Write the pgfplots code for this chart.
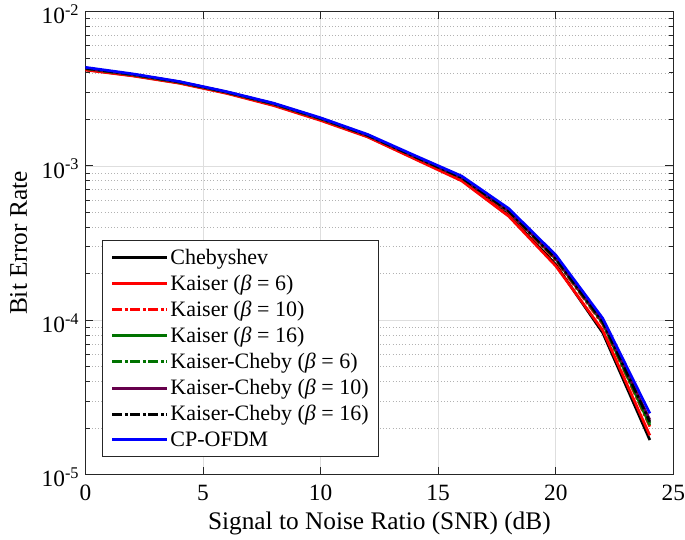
\documentclass[border=0pt]{standalone}
\usepackage{pgfplots}
\pgfplotsset{compat=1.18}
\usepackage{fontspec}
\setmainfont{Liberation Serif}
\definecolor{mgreen}{rgb}{0,0.45,0}
\definecolor{mpurple}{rgb}{0.4,0,0.3}
\definecolor{mblack}{rgb}{0,0,0}
\definecolor{axgray}{rgb}{0.15,0.15,0.15}
\pgfplotstableread{
x cp cheb k6 k10 k16 kc6 kc10 kc16
0 4.35e-3 4.20e-3 4.18e-3 4.25e-3 4.28e-3 4.27e-3 4.29e-3 4.30e-3
2 3.95e-3 3.85e-3 3.83e-3 3.88e-3 3.90e-3 3.89e-3 3.91e-3 3.92e-3
4 3.52e-3 3.45e-3 3.43e-3 3.47e-3 3.49e-3 3.48e-3 3.50e-3 3.50e-3
6 3.03e-3 2.97e-3 2.95e-3 2.99e-3 3.00e-3 3.00e-3 3.01e-3 3.01e-3
8 2.55e-3 2.48e-3 2.46e-3 2.51e-3 2.52e-3 2.52e-3 2.53e-3 2.53e-3
10 2.05e-3 1.99e-3 1.97e-3 2.01e-3 2.02e-3 2.02e-3 2.03e-3 2.03e-3
12 1.60e-3 1.55e-3 1.54e-3 1.57e-3 1.58e-3 1.58e-3 1.58e-3 1.58e-3
14 1.17e-3 1.12e-3 1.11e-3 1.14e-3 1.15e-3 1.15e-3 1.15e-3 1.15e-3
16 8.6e-4 8.1e-4 8.0e-4 8.3e-4 8.4e-4 8.4e-4 8.4e-4 8.4e-4
18 5.3e-4 4.8e-4 4.72e-4 5.0e-4 5.1e-4 5.1e-4 5.1e-4 5.1e-4
20 2.65e-4 2.3e-4 2.25e-4 2.45e-4 2.5e-4 2.5e-4 2.52e-4 2.52e-4
22 1.03e-4 8.3e-5 8.6e-5 9.4e-5 9.6e-5 9.7e-5 9.8e-5 9.8e-5
24 2.5e-5 1.68e-5 1.8e-5 2.05e-5 2.1e-5 2.15e-5 2.27e-5 2.2e-5
}\data
\begin{document}
\begin{tikzpicture}
\begin{axis}[
  scale only axis,
  width=441pt, height=347.5pt,
  xmin=0, xmax=25, ymin=1e-5, ymax=1e-2,
  ymode=log,
  xtick={0,5,10,15,20,25},
  ytick={1e-5,1e-4,1e-3,1e-2},
  yticklabels={10\textsuperscript{-5},10\textsuperscript{-4},10\textsuperscript{-3},10\textsuperscript{-2}},
  /pgf/number format/assume math mode=true,
  ticklabel style={font=\fontsize{17.5}{20}\selectfont},
  xticklabel style={yshift=-4pt, inner xsep=0pt},
  yticklabel style={xshift=-1pt, yshift=-2pt},
  label style={font=\fontsize{19}{22}\selectfont},
  xlabel style={yshift=-2pt},
  ylabel style={yshift=0pt, inner ysep=7.5pt},
  xlabel={Signal to Noise Ratio (SNR) (dB)},
  ylabel={Bit Error Rate},
  grid=both,
  xminorgrids=false,
  major grid style={draw=black!13, line width=0.6pt},
  minor grid style={draw=black!30, dotted, line width=0.6pt},
  tick align=inside,
  axis line style={axgray, line width=0.7pt},
  every tick/.style={axgray, line width=0.7pt},
  major tick length=6pt, minor tick length=3.5pt,
  legend cell align=left,
  legend style={at={(0.029,0.039)}, anchor=south west, draw=axgray, line width=0.6pt,
    font=\fontsize{16.5}{19.6}\selectfont, row sep=3.3pt, inner xsep=6pt, inner ysep=4.5pt,
    nodes={inner ysep=1.6pt, inner xsep=1.5pt}},
  legend image code/.code={\draw[line width=2.2pt,#1,line width=2.2pt] (0pt,0pt) -- (41pt,0pt);},
]
\addplot[mblack, line width=2pt] table[x=x,y=cheb]{\data};
\addlegendentry{Chebyshev}
\addplot[red, line width=2pt] table[x=x,y=k6]{\data};
\addlegendentry{Kaiser (\textit{β} = 6)}
\addplot[red, line width=2pt, dash pattern=on 7.5pt off 2pt on 2pt off 2pt] table[x=x,y=k10]{\data};
\addlegendentry{Kaiser (\textit{β} = 10)}
\addplot[mgreen, line width=2pt] table[x=x,y=k16]{\data};
\addlegendentry{Kaiser (\textit{β} = 16)}
\addplot[mgreen, line width=2pt, dash pattern=on 7.5pt off 2pt on 2pt off 2pt] table[x=x,y=kc6]{\data};
\addlegendentry{Kaiser-Cheby (\textit{β} = 6)}
\addplot[mpurple, line width=2pt] table[x=x,y=kc10]{\data};
\addlegendentry{Kaiser-Cheby (\textit{β} = 10)}
\addplot[mblack, line width=2pt, dash pattern=on 7.5pt off 2pt on 2pt off 2pt] table[x=x,y=kc16]{\data};
\addlegendentry{Kaiser-Cheby (\textit{β} = 16)}
\addplot[blue, line width=2pt] table[x=x,y=cp]{\data};
\addlegendentry{CP-OFDM}
\end{axis}
\end{tikzpicture}
\end{document}
